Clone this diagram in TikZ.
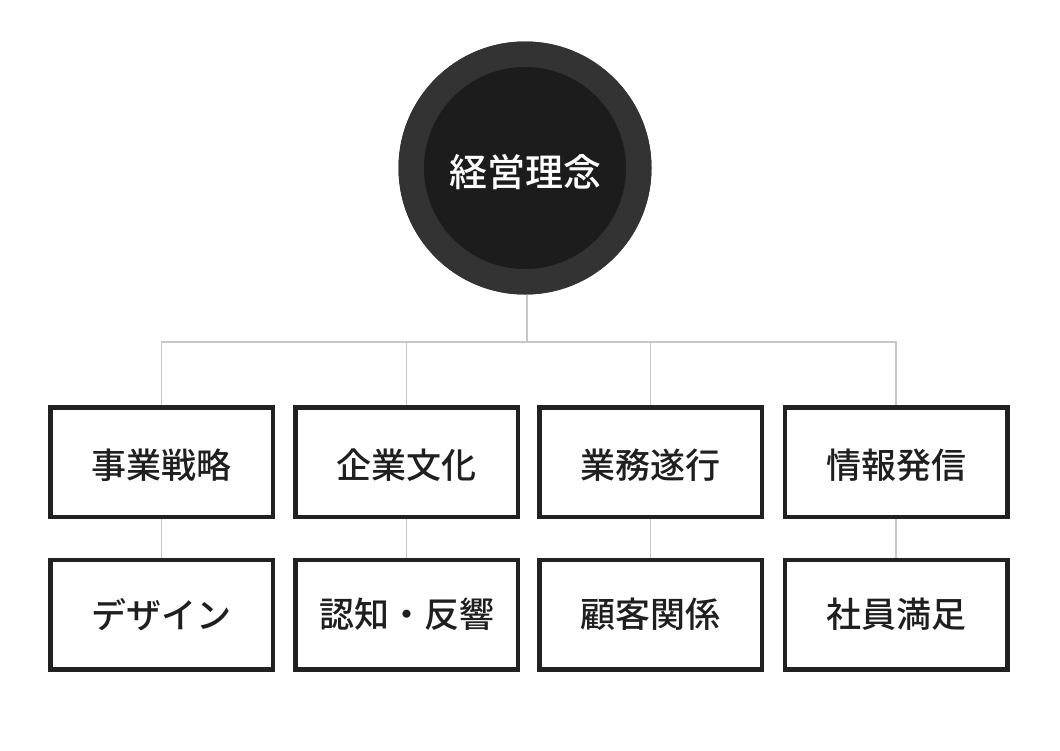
\documentclass[tikz,border=0pt]{standalone}
\usepackage{fontspec}
\setmainfont{Noto Sans CJK JP}[UprightFont=* Medium]
\newcommand{\lowertext}[2]{\raisebox{-#1}[\height][\depth]{#2}}
\begin{document}
\begin{tikzpicture}[x=1pt,y=-1pt,
  catbox/.style={draw=black!87, line width=3pt, fill=white, minimum width=221pt, minimum height=108pt, inner sep=0pt, font=\fontsize{35}{40}\selectfont, text=black!88},
  link/.style={draw=black!22, line width=1.5pt},
  rootouter/.style={circle, fill=black!80, minimum size=253pt, inner sep=0pt},
  rootinner/.style={circle, fill=black!89, minimum size=202pt, inner sep=0pt, text=white, font=\fontsize{38}{44}\selectfont}]
\useasboundingbox (0,0) rectangle (1060,750);
\fill[white] (0,0) rectangle (1060,750);
\coordinate (j) at (527,342);
\node[rootouter] (root) at (525,168) {};
\node[catbox] (a1) at (161.5,462) {\lowertext{3pt}{事業戦略}};
\node[catbox] (a2) at (406.5,462) {\lowertext{3pt}{企業文化}};
\node[catbox] (a3) at (650.5,462) {\lowertext{3pt}{業務遂行}};
\node[catbox] (a4) at (896,462) {\lowertext{3pt}{情報発信}};
\node[catbox] (b1) at (161.5,614.5) {デザイン};
\node[catbox] (b2) at (406.5,614.5) {認知・反響};
\node[catbox] (b3) at (650.5,614.5) {顧客関係};
\node[catbox] (b4) at (896,614.5) {社員満足};
\draw[link] (root.south -| j) -- (j);
\draw[link] (j) -| (a1.north);
\draw[link] (j) -| (a2.north);
\draw[link] (j) -| (a3.north);
\draw[link] (j) -| (a4.north);
\draw[link] (a1.south) -- (b1.north);
\draw[link] (a2.south) -- (b2.north);
\draw[link] (a3.south) -- (b3.north);
\draw[link] (a4.south) -- (b4.north);
\node[rootouter] at (root) {};
\node[rootinner] (core) at (root) {\lowertext{4pt}{経営理念}};
\foreach \n in {a1,a2,a3,a4,b1,b2,b3,b4} {\draw[draw=black!87, line width=3pt] (\n.north west) rectangle (\n.south east);}
\end{tikzpicture}
\end{document}
